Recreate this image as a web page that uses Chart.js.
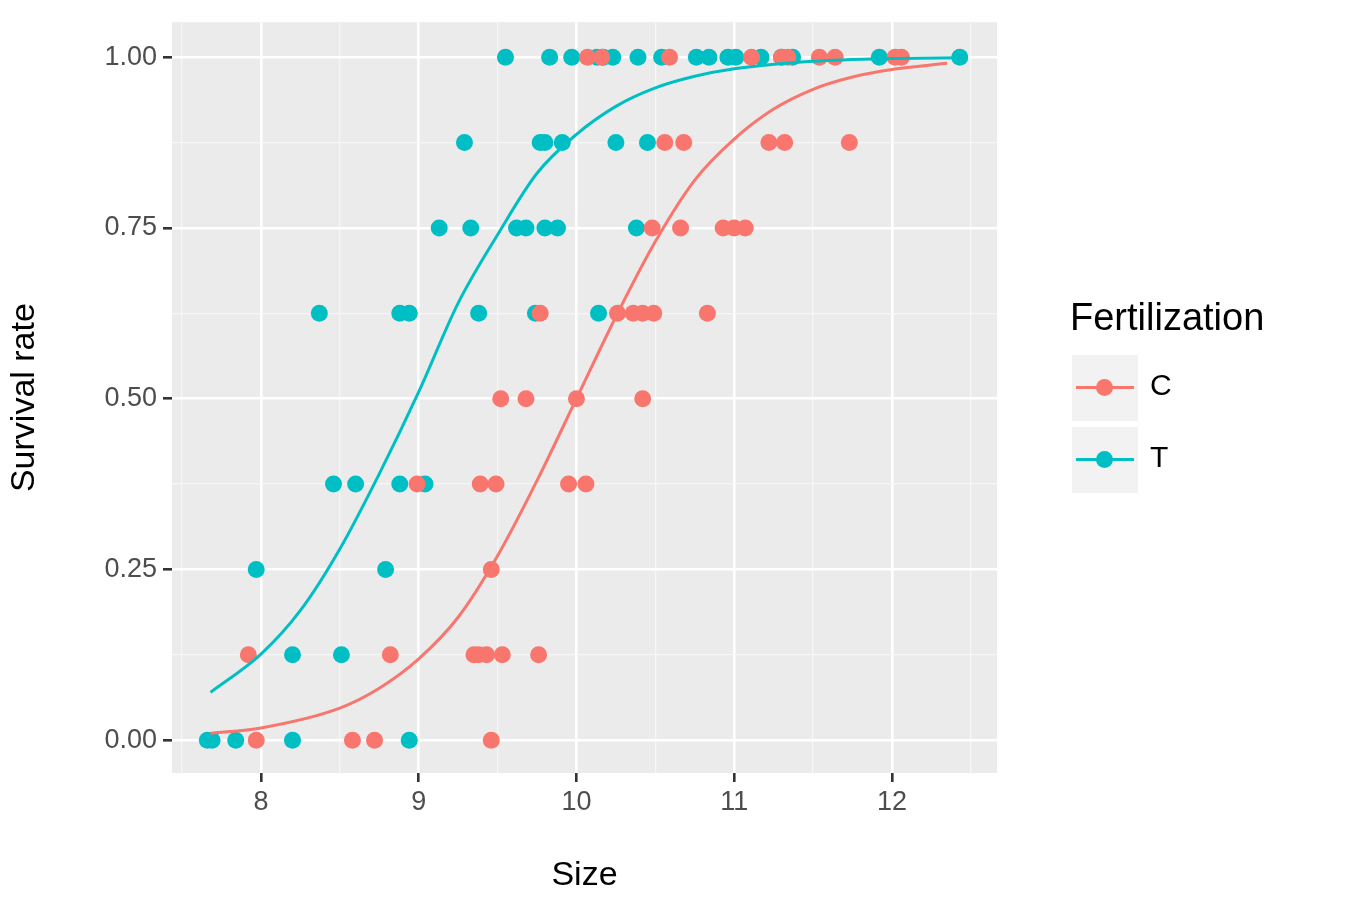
<!DOCTYPE html>
<html>
<head>
<meta charset="utf-8">
<script src="https://cdn.jsdelivr.net/npm/chart.js@4"></script>
<style>
  body { margin: 0; background: #fff; font-family: "Liberation Sans", Arial, sans-serif; }
  #wrap { position: relative; width: 1350px; height: 900px; }
  .legend-title { position: absolute; left: 1070px; top: 296px; font-size: 38px; color: #000; }
  .key { position: absolute; left: 1072px; width: 66px; height: 66px; background: #F2F2F2; }
  .key .ln { position: absolute; left: 4px; right: 4px; top: 31px; height: 3px; }
  .key .dt { position: absolute; left: 24px; top: 24px; width: 17px; height: 17px; border-radius: 50%; }
  .klab { position: absolute; left: 1150px; font-size: 30px; color: #000; }
</style>
</head>
<body>
<div id="wrap">
  <canvas id="chart" width="1350" height="900"></canvas>
  <div class="legend-title">Fertilization</div>
  <div class="key" style="top:355px"><div class="ln" style="background:#F8766D"></div><div class="dt" style="background:#F8766D"></div></div>
  <div class="klab" style="top:368px">C</div>
  <div class="key" style="top:427px"><div class="ln" style="background:#00BFC4"></div><div class="dt" style="background:#00BFC4"></div></div>
  <div class="klab" style="top:440px">T</div>
</div>
<script>
// --- Data ---
const colorC = '#F8766D';
const colorT = '#00BFC4';

// observed points: [size, survival]
const pointsC = [
  [10.07,1],[10.16,1],[10.59,1],[11.11,1],[11.30,1],[11.34,1],[11.54,1],[11.64,1],[12.02,1],[12.06,1],
  [10.56,0.875],[10.68,0.875],[11.22,0.875],[11.32,0.875],[11.73,0.875],
  [10.48,0.75],[10.66,0.75],[10.93,0.75],[11.00,0.75],[11.07,0.75],
  [9.77,0.625],[10.26,0.625],[10.36,0.625],[10.42,0.625],[10.49,0.625],[10.83,0.625],
  [9.52,0.5],[9.68,0.5],[10.00,0.5],[10.42,0.5],
  [8.99,0.375],[9.39,0.375],[9.49,0.375],[9.95,0.375],[10.06,0.375],
  [9.46,0.25],
  [7.92,0.125],[8.82,0.125],[9.35,0.125],[9.38,0.125],[9.43,0.125],[9.53,0.125],[9.76,0.125],
  [7.97,0],[8.58,0],[8.72,0],[9.46,0]
];
const pointsT = [
  [9.55,1],[9.83,1],[9.97,1],[10.13,1],[10.17,1],[10.23,1],[10.39,1],[10.54,1],[10.76,1],[10.84,1],
  [10.96,1],[11.01,1],[11.17,1],[11.30,1],[11.37,1],[11.92,1],[12.43,1],
  [9.29,0.875],[9.77,0.875],[9.80,0.875],[9.91,0.875],[10.25,0.875],[10.45,0.875],
  [9.13,0.75],[9.33,0.75],[9.62,0.75],[9.68,0.75],[9.80,0.75],[9.88,0.75],[10.38,0.75],
  [8.37,0.625],[8.88,0.625],[8.94,0.625],[9.38,0.625],[9.74,0.625],[10.14,0.625],
  [8.46,0.375],[8.60,0.375],[8.88,0.375],[9.04,0.375],
  [7.97,0.25],[8.79,0.25],
  [8.20,0.125],[8.51,0.125],
  [7.66,0],[7.69,0],[7.84,0],[8.20,0],[8.94,0]
];

// fitted curves
const curveCx = [7.68,8.0,8.5,8.75,9.0,9.25,9.5,9.75,10.0,10.25,10.5,10.75,11.0,11.25,11.5,11.75,12.0,12.35];
const curveCy = [0.010,0.018,0.047,0.076,0.119,0.18,0.27,0.38,0.5,0.62,0.73,0.82,0.88,0.924,0.953,0.971,0.982,0.991];
const curveTx = [7.68,8.0,8.25,8.5,8.75,9.0,9.25,9.5,9.75,10.0,10.25,10.5,10.75,11.0,11.5,12.0,12.45];
const curveTy = [0.07,0.126,0.19,0.28,0.39,0.51,0.64,0.74,0.83,0.887,0.928,0.955,0.972,0.983,0.994,0.998,0.999];

const xTicks = [7.5,8,8.5,9,9.5,10,10.5,11,11.5,12,12.5];
const yTicks = [0,0.125,0.25,0.375,0.5,0.625,0.75,0.875,1];

const toXY = arr => arr.map(p => ({ x: p[0], y: p[1] }));
const zipXY = (xs, ys) => xs.map((x, i) => ({ x: x, y: ys[i] }));

const panelBg = {
  id: 'panelBg',
  beforeDraw(chart) {
    const a = chart.chartArea, c = chart.ctx;
    c.save();
    c.fillStyle = '#EBEBEB';
    c.fillRect(a.left, a.top, a.right - a.left, a.bottom - a.top);
    c.restore();
  }
};

const isMajorX = v => Number.isInteger(v);
const isMajorY = v => Math.abs(v * 4 - Math.round(v * 4)) < 1e-9;

new Chart(document.getElementById('chart'), {
  data: {
    datasets: [
      { type: 'line', data: zipXY(curveCx, curveCy), borderColor: colorC, borderWidth: 3, pointRadius: 0, tension: 0.4, cubicInterpolationMode: 'monotone', order: 1 },
      { type: 'line', data: zipXY(curveTx, curveTy), borderColor: colorT, borderWidth: 3, pointRadius: 0, tension: 0.4, cubicInterpolationMode: 'monotone', order: 1 },
      { type: 'scatter', data: toXY(pointsC), backgroundColor: colorC, borderWidth: 0, pointRadius: 8.5, order: 2 },
      { type: 'scatter', data: toXY(pointsT), backgroundColor: colorT, borderWidth: 0, pointRadius: 8.5, order: 2 }
    ]
  },
  options: {
    responsive: false,
    animation: false,
    layout: { padding: { left: 0, top: 22, right: 353, bottom: 0 } },
    plugins: { legend: { display: false }, tooltip: { enabled: false } },
    scales: {
      x: {
        type: 'linear', min: 7.436, max: 12.666,
        afterBuildTicks: s => { s.ticks = xTicks.map(v => ({ value: v })); },
        afterFit: s => { s.height = 127; },
        border: { display: false },
        grid: {
          color: ctx => isMajorX(ctx.tick.value) ? '#FFFFFF' : '#F6F6F6',
          lineWidth: ctx => isMajorX(ctx.tick.value) ? 2.6 : 1.3,
          tickColor: ctx => isMajorX(ctx.tick.value) ? '#333333' : 'rgba(0,0,0,0)',
          tickLength: 9
        },
        ticks: {
          autoSkip: false, maxRotation: 0, padding: 4,
          color: '#4D4D4D', font: { size: 27, family: 'Liberation Sans' },
          callback: v => isMajorX(v) ? String(v) : ''
        },
        title: { display: true, text: 'Size', color: '#000', font: { size: 34, family: 'Liberation Sans' }, padding: { top: 6 } }
      },
      y: {
        type: 'linear', min: -0.048, max: 1.0512,
        afterBuildTicks: s => { s.ticks = yTicks.map(v => ({ value: v })); },
        afterFit: s => { s.width = 172; },
        border: { display: false },
        grid: {
          color: ctx => isMajorY(ctx.tick.value) ? '#FFFFFF' : '#F6F6F6',
          lineWidth: ctx => isMajorY(ctx.tick.value) ? 2.6 : 1.3,
          tickColor: ctx => isMajorY(ctx.tick.value) ? '#333333' : 'rgba(0,0,0,0)',
          tickLength: 9
        },
        ticks: {
          autoSkip: false, padding: 6,
          color: '#4D4D4D', font: { size: 27, family: 'Liberation Sans' },
          callback: v => isMajorY(v) ? v.toFixed(2) : ''
        },
        title: { display: true, text: 'Survival rate', color: '#000', font: { size: 34, family: 'Liberation Sans' }, padding: { bottom: 8 } }
      }
    }
  },
  plugins: [panelBg]
});
</script>
</body>
</html>
